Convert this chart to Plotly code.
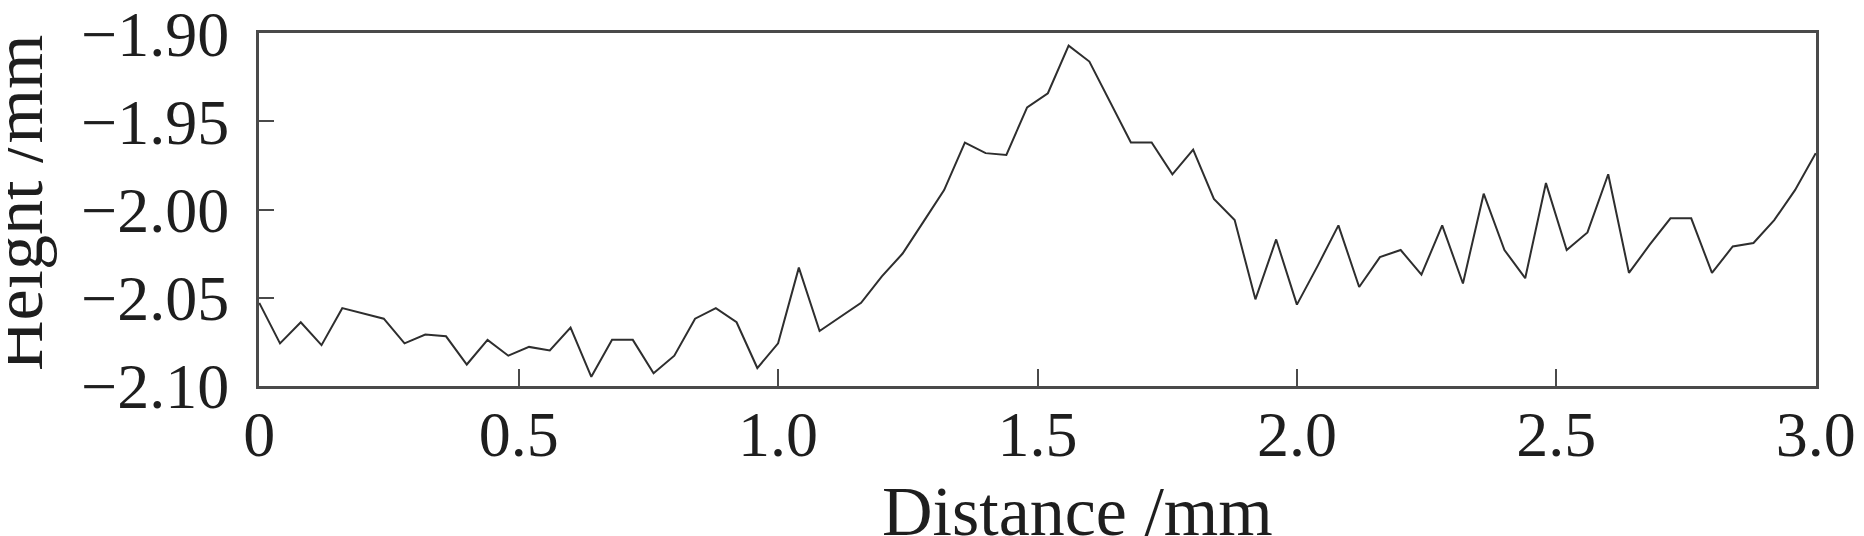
import plotly.graph_objects as go

# Data
distance_mm = [0.00, 0.04, 0.08, 0.12, 0.16, 0.20, 0.24, 0.28, 0.32, 0.36,
               0.40, 0.44, 0.48, 0.52, 0.56, 0.60, 0.64, 0.68, 0.72, 0.76,
               0.80, 0.84, 0.88, 0.92, 0.96, 1.00, 1.04, 1.08, 1.12, 1.16,
               1.20, 1.24, 1.28, 1.32, 1.36, 1.40, 1.44, 1.48, 1.52, 1.56,
               1.60, 1.64, 1.68, 1.72, 1.76, 1.80, 1.84, 1.88, 1.92, 1.96,
               2.00, 2.04, 2.08, 2.12, 2.16, 2.20, 2.24, 2.28, 2.32, 2.36,
               2.40, 2.44, 2.48, 2.52, 2.56, 2.60, 2.64, 2.68, 2.72, 2.76,
               2.80, 2.84, 2.88, 2.92, 2.96, 3.00]

height_mm = [-2.053, -2.076, -2.064, -2.077, -2.056, -2.059, -2.062, -2.076, -2.071, -2.072,
             -2.088, -2.074, -2.083, -2.078, -2.080, -2.067, -2.095, -2.074, -2.074, -2.093,
             -2.083, -2.062, -2.056, -2.064, -2.090, -2.076, -2.033, -2.069, -2.061, -2.053,
             -2.038, -2.025, -2.007, -1.989, -1.962, -1.968, -1.969, -1.942, -1.934, -1.907,
             -1.916, -1.939, -1.962, -1.962, -1.980, -1.966, -1.994, -2.006, -2.051, -2.017,
             -2.054, -2.032, -2.009, -2.044, -2.027, -2.023, -2.037, -2.009, -2.042, -1.991,
             -2.023, -2.039, -1.985, -2.023, -2.013, -1.980, -2.036, -2.020, -2.005, -2.005,
             -2.036, -2.021, -2.019, -2.006, -1.989, -1.968]

x_tickvals = [0, 0.5, 1.0, 1.5, 2.0, 2.5, 3.0]
x_ticktext = ["0", "0.5", "1.0", "1.5", "2.0", "2.5", "3.0"]
y_tickvals = [-1.90, -1.95, -2.00, -2.05, -2.10]
y_ticktext = ["\u22121.90", "\u22121.95", "\u22122.00", "\u22122.05", "\u22122.10"]

x_title = "Distance /mm"
y_title = "Height /mm"

FONT = "Liberation Serif"
TEXT = "#1e1e1e"
AXIS = "#4a4a4a"

fig = go.Figure()
fig.add_trace(go.Scatter(
    x=distance_mm, y=height_mm, mode="lines",
    line=dict(color="#2e2e2e", width=2),
    showlegend=False,
))

# the page body adds an 8px margin, so the figure is 8px smaller and margins are offset
fig.update_layout(
    width=1856, height=528,
    margin=dict(l=251, r=48, t=25, b=150, autoexpand=False),
    paper_bgcolor="white", plot_bgcolor="white",
    font=dict(family=FONT, color=TEXT),
    xaxis=dict(
        range=[-0.0005, 3.0005], tickmode="array", tickvals=x_tickvals, ticktext=x_ticktext,
        ticks="inside", ticklen=17, tickwidth=2, tickcolor=AXIS,
        showline=True, linecolor=AXIS, linewidth=3, mirror=True,
        showgrid=False, zeroline=False, automargin=False,
        tickfont=dict(family=FONT, size=64, color=TEXT),
        ticklabelstandoff=-10, ticklabeloverflow="allow",
    ),
    yaxis=dict(
        range=[-2.1002, -1.8998], tickmode="array", tickvals=y_tickvals, ticktext=y_ticktext,
        ticks="inside", ticklen=15, tickwidth=2, tickcolor=AXIS,
        showline=True, linecolor=AXIS, linewidth=3, mirror=True,
        showgrid=False, zeroline=False, automargin=False,
        tickfont=dict(family=FONT, size=64, color=TEXT),
        ticklabelstandoff=14, ticklabeloverflow="allow",
    ),
    annotations=[
        dict(text=x_title, xref="paper", yref="paper", x=0.5, y=0,
             xanchor="center", yanchor="top", xshift=40, yshift=-85,
             showarrow=False, font=dict(family=FONT, size=70, color=TEXT)),
        dict(text=y_title, xref="paper", yref="paper", x=0, y=0.5,
             xanchor="right", yanchor="middle", xshift=-200, yshift=6,
             textangle=-90, showarrow=False,
             font=dict(family=FONT, size=70, color=TEXT)),
    ],
)

fig.write_html("out.html")
